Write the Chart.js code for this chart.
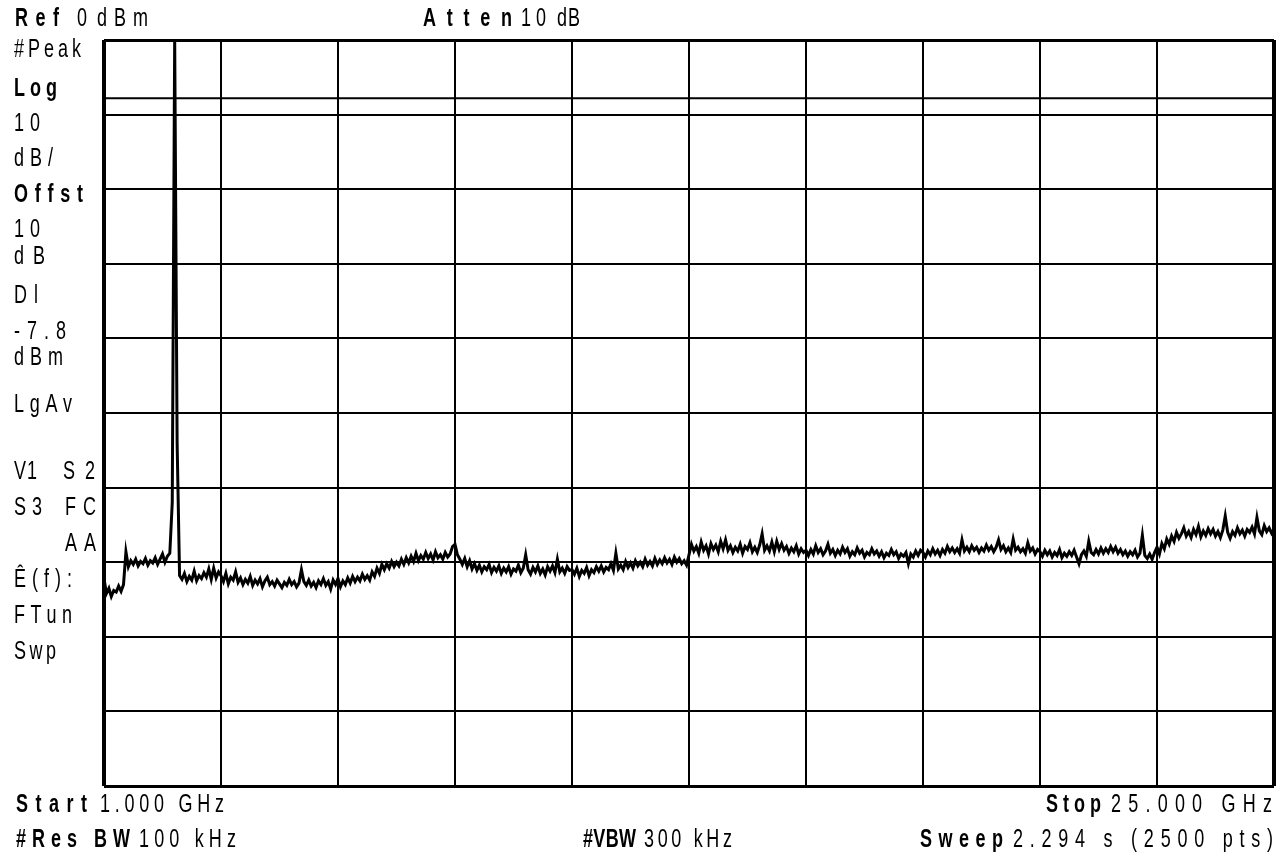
<!DOCTYPE html>
<html><head><meta charset="utf-8">
<script src="https://cdn.jsdelivr.net/npm/chart.js@4.4.1/dist/chart.umd.min.js"></script>
<style>
html,body{margin:0;padding:0;background:#fff;}
#wrap{position:relative;width:1286px;height:855px;overflow:hidden;background:#fff;}
canvas{position:absolute;left:0;top:0;}
.t{position:absolute;font-family:'Liberation Sans',Arial,sans-serif;font-size:25px;line-height:1;white-space:pre;color:#000;transform-origin:0 0;}
.b{font-weight:bold;}
</style></head>
<body><div id="wrap"><canvas id="c" width="1286" height="855"></canvas></div>
<script>
// ---- sweep definition ----
const startGHz = 1.0;
const stopGHz = 25.0;
const stepGHz = 0.05;
const refLevelDbm = 0;
const bottomDbm = -100;
const dbPerDiv = 10;
const displayLineDbm = -7.8;
const freqGridGHz = [1, 3.4, 5.8, 8.2, 10.6, 13, 15.4, 17.8, 20.2, 22.6, 25];

// ---- trace levels (dBm), one array per horizontal division ----
const div1 = [-72.2,-74.2,-73.5,-74.6,-73.8,-74.0,-73.2,-73.9,-73.0,-68.6,-70.6,-69.8,-70.3,-69.6,-70.5,-69.9,-70.2,-69.5,-70.4,-69.8,-70.1,-69.4,-70.3,-69.6,-68.9,-70.0,-69.2,-68.8,-62.0,0,-54.0,-71.8,-72.3,-71.5,-72.6,-71.9,-72.4,-71.2,-72.5,-71.8,-72.2,-71.4,-72.0,-70.9,-72.3,-70.8,-72.1,-71.3];
const div2 = [-71.8,-72.6,-71.5,-72.9,-72.0,-72.4,-71.3,-72.7,-72.1,-73.0,-72.3,-72.8,-71.9,-73.1,-72.4,-72.9,-72.2,-73.3,-72.5,-72.0,-73.0,-72.6,-73.2,-72.4,-72.9,-73.4,-72.7,-73.1,-72.3,-73.0,-72.6,-73.3,-72.8,-71.0,-72.6,-73.1,-72.4,-73.2,-72.7,-73.4,-72.5,-73.0,-72.2,-73.1,-72.6,-73.6,-72.4,-73.0];
const div3 = [-72.2,-73.3,-72.5,-73.0,-72.1,-72.8,-71.9,-72.6,-72.0,-72.5,-71.6,-72.3,-71.8,-72.4,-71.3,-71.9,-70.8,-71.5,-70.3,-71.0,-70.2,-70.8,-69.9,-70.6,-70.0,-70.5,-69.6,-70.3,-69.4,-70.1,-69.2,-69.9,-68.8,-69.8,-69.1,-69.6,-68.7,-69.5,-68.9,-69.7,-68.6,-69.4,-69.0,-69.6,-68.7,-69.3,-68.9,-67.9];
const div4 = [-67.6,-69.0,-69.6,-70.3,-69.5,-70.6,-69.8,-70.9,-70.2,-71.1,-70.4,-71.3,-70.6,-71.0,-70.3,-71.4,-70.7,-71.2,-70.5,-71.5,-70.8,-71.3,-70.6,-71.6,-70.9,-71.2,-70.4,-71.4,-70.8,-69.0,-71.0,-71.6,-70.7,-71.3,-70.5,-71.5,-70.9,-71.7,-70.6,-71.2,-70.5,-71.4,-69.6,-71.3,-70.8,-71.5,-70.6,-71.1];
const div5 = [-71.0,-71.6,-70.8,-71.9,-71.1,-71.5,-70.7,-71.8,-71.0,-71.4,-70.6,-71.2,-70.5,-71.3,-70.7,-71.0,-70.2,-71.1,-68.8,-70.9,-70.4,-71.0,-69.9,-70.7,-70.1,-70.8,-69.8,-70.5,-70.0,-70.6,-69.6,-70.4,-69.9,-70.5,-69.5,-70.3,-69.7,-70.2,-69.4,-70.1,-69.6,-70.3,-69.3,-70.0,-69.5,-70.2,-69.8,-70.4];
const div6 = [-69.0,-67.6,-68.5,-67.9,-68.8,-67.3,-68.4,-67.8,-68.9,-67.5,-68.3,-67.7,-68.6,-67.2,-68.2,-67.0,-68.4,-67.8,-68.7,-68.0,-68.5,-67.6,-68.8,-67.9,-68.3,-67.4,-68.6,-68.0,-68.7,-67.7,-66.2,-68.4,-67.8,-68.5,-67.3,-68.6,-67.2,-68.3,-67.5,-68.4,-67.9,-68.8,-68.1,-68.6,-67.8,-68.9,-68.2,-68.7];
const div7 = [-68.4,-69.1,-68.3,-68.9,-67.8,-68.7,-68.2,-69.0,-68.5,-67.6,-68.8,-68.3,-69.1,-68.4,-68.9,-68.0,-68.7,-68.2,-69.2,-68.6,-69.0,-68.1,-68.8,-68.4,-69.3,-68.7,-69.0,-68.2,-68.9,-68.5,-69.2,-68.6,-69.4,-68.8,-69.1,-68.3,-69.0,-68.6,-69.5,-68.9,-69.2,-68.7,-70.2,-68.9,-69.3,-68.5,-69.1,-68.4];
const div8 = [-68.7,-69.3,-68.5,-69.0,-68.2,-68.9,-68.4,-69.1,-68.3,-68.8,-67.9,-68.6,-68.1,-68.7,-68.2,-68.8,-67.0,-68.5,-68.0,-68.6,-67.8,-68.4,-68.0,-68.7,-68.1,-68.5,-67.7,-68.4,-67.9,-68.6,-68.0,-67.0,-68.3,-67.8,-68.6,-68.1,-68.7,-66.9,-68.4,-68.0,-68.6,-68.2,-68.8,-67.4,-68.5,-68.1,-68.9,-68.3];
const div9 = [-68.6,-69.2,-68.4,-69.0,-68.5,-69.3,-68.7,-69.1,-68.3,-69.4,-68.8,-69.2,-68.6,-69.1,-68.4,-69.3,-70.2,-69.0,-68.5,-69.2,-67.2,-68.7,-69.0,-68.3,-68.9,-68.1,-68.8,-68.2,-68.7,-67.9,-68.6,-68.0,-68.8,-68.3,-69.0,-68.5,-69.2,-68.6,-69.0,-68.4,-69.3,-68.8,-66.4,-69.1,-69.5,-68.9,-69.6,-68.7];
const div10 = [-68.0,-68.9,-67.5,-68.2,-66.9,-67.6,-66.5,-67.2,-66.0,-66.8,-66.2,-65.4,-66.5,-65.9,-66.7,-65.6,-66.3,-65.2,-66.6,-65.8,-66.4,-65.5,-66.2,-65.6,-66.5,-65.9,-66.7,-65.7,-63.8,-66.0,-66.8,-65.9,-66.4,-65.4,-66.2,-65.7,-66.5,-65.6,-66.0,-65.3,-66.2,-64.0,-65.8,-66.3,-65.1,-65.9,-65.4,-66.1,-65.5];

// ---- annotation texts ----
const labels = [
  {text:'Ref', x0:15, x1:59, y:17, bold:true},
  {text:'0', x0:77, x1:87, y:17},
  {text:'dBm', x0:97, x1:148, y:17},
  {text:'Atten', x0:423, x1:512, y:17, bold:true},
  {text:'10', x0:521, x1:546, y:17},
  {text:'dB', x0:557, x1:580, y:17},
  {text:'#Peak', x0:14, x1:81, y:48},
  {text:'Log', x0:14, x1:57, y:87, bold:true},
  {text:'10', x0:14, x1:40, y:122},
  {text:'dB/', x0:14, x1:53, y:157},
  {text:'Offst', x0:14, x1:83, y:193, bold:true},
  {text:'10', x0:14, x1:40, y:228},
  {text:'dB', x0:14, x1:45, y:255},
  {text:'Dl', x0:14, x1:38, y:294},
  {text:'-7.8', x0:14, x1:66, y:330},
  {text:'dBm', x0:14, x1:63, y:356},
  {text:'LgAv', x0:14, x1:72, y:403},
  {text:'V1', x0:14, x1:37, y:470},
  {text:'S2', x0:63, x1:95, y:470},
  {text:'S3', x0:14, x1:42, y:506},
  {text:'FC', x0:65, x1:96, y:506},
  {text:'AA', x0:65, x1:96, y:542},
  {text:'\u00CA(f):', x0:14, x1:72, y:578},
  {text:'FTun', x0:14, x1:72, y:614},
  {text:'Swp', x0:14, x1:56, y:650},
  {text:'Start', x0:16, x1:87, y:803, bold:true},
  {text:'1.000 GHz', x0:100, x1:224, y:803},
  {text:'#Res BW', x0:16, x1:130, y:838, bold:true},
  {text:'100 kHz', x0:139, x1:236, y:838},
  {text:'#VBW', x0:583, x1:636, y:838, bold:true},
  {text:'300 kHz', x0:644, x1:732, y:838},
  {text:'Stop', x0:1046, x1:1101, y:803, bold:true},
  {text:'25.000 GHz', x0:1111, x1:1272, y:803},
  {text:'Sweep', x0:920, x1:1003, y:838, bold:true},
  {text:'2.294 s (2500 pts)', x0:1013, x1:1273, y:838}
];

const levels = [].concat(div1, div2, div3, div4, div5, div6, div7, div8, div9, div10);
const tracePts = levels.map((v, i) => ({x: startGHz + i * stepGHz, y: v}));

const edgeW = (v, a, b, w) => (Math.abs(v - a) < 1e-6 || Math.abs(v - b) < 1e-6) ? w : 2;

new Chart(document.getElementById('c').getContext('2d'), {
  type: 'line',
  data: {
    datasets: [
      {data: tracePts, borderColor: '#000', borderWidth: 3, pointRadius: 0, tension: 0, fill: false},
      {data: [{x: startGHz, y: displayLineDbm}, {x: stopGHz, y: displayLineDbm}], borderColor: '#000', borderWidth: 2, pointRadius: 0, fill: false}
    ]
  },
  options: {
    responsive: false,
    animation: false,
    devicePixelRatio: 1,
    events: [],
    layout: {padding: {left: 104, top: 40, right: 12, bottom: 69}},
    plugins: {legend: {display: false}, tooltip: {enabled: false}, title: {display: false}},
    scales: {
      x: {
        type: 'linear', min: startGHz, max: stopGHz,
        afterBuildTicks: s => { s.ticks = freqGridGHz.map(v => ({value: v})); },
        afterFit: s => { s.height = 0; },
        ticks: {display: false},
        grid: {color: '#000', drawTicks: false, lineWidth: c => edgeW(c.tick ? c.tick.value : 0, startGHz, stopGHz, 4)},
        border: {display: false}
      },
      y: {
        type: 'linear', min: bottomDbm, max: refLevelDbm,
        ticks: {display: false, stepSize: dbPerDiv},
        afterFit: s => { s.width = 0; },
        grid: {color: '#000', drawTicks: false, lineWidth: c => edgeW(c.tick ? c.tick.value : 0, bottomDbm, refLevelDbm, 3)},
        border: {display: false}
      }
    }
  }
});

// condensed look: horizontally squeezed text, spacing fitted to the reference span
const squeeze = 0.72;
const wrap = document.getElementById('wrap');
labels.forEach(L => {
  const d = document.createElement('div');
  d.className = 't' + (L.bold ? ' b' : '');
  d.textContent = L.text;
  d.style.transform = 'scaleX(' + squeeze + ')';
  wrap.appendChild(d);
  const w = d.getBoundingClientRect().width;
  const n = [...L.text].length;
  const ls = n > 1 ? ((L.x1 - L.x0) - w) / (n - 1) / squeeze : 0;
  d.style.letterSpacing = ls + 'px';
  d.style.left = L.x0 + 'px';
  d.style.top = (L.y - 12) + 'px';
});
</script>
</body></html>
